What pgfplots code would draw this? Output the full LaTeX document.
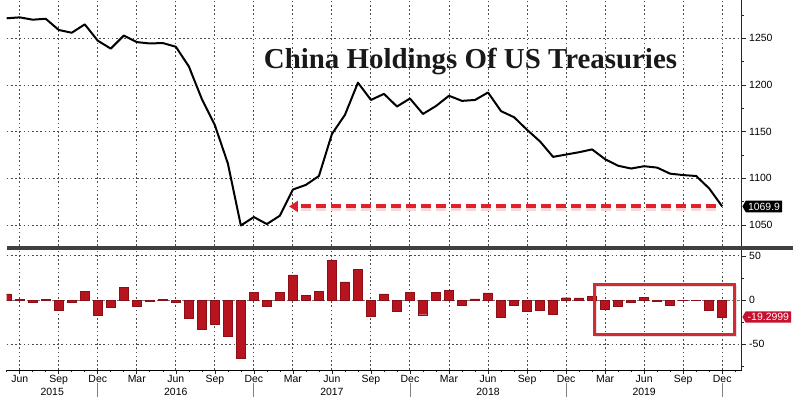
\documentclass[border=0pt]{standalone}
\usepackage{pgfplots}
\pgfplotsset{compat=1.18}
\usepackage{pgfplotstable}
\usepackage{fontspec}
\setmainfont{Liberation Sans}
\newfontfamily\titlefont{Liberation Serif}
\usetikzlibrary{arrows.meta,shapes.symbols,calc}
\definecolor{barred}{HTML}{B8141F}
\definecolor{arrred}{HTML}{E0202A}
\definecolor{boxred}{HTML}{C8102E}
\definecolor{rectred}{HTML}{D42A32}

\pgfplotstableread{
i val chg
0 1271.5 7
1 1272.5 1
2 1270 -2
3 1271 1
4 1259 -12
5 1256 -3
6 1265 10
7 1247.5 -17.5
8 1239 -8
9 1253 14.5
10 1246 -7.5
11 1244.5 -1.5
12 1245 1
13 1241 -3
14 1220 -21
15 1185 -33.5
16 1157 -28
17 1116 -41
18 1049.5 -66
19 1058.5 9
20 1051 -7
21 1060 9
22 1088 28.5
23 1093 5
24 1102.5 9.5
25 1147.5 45
26 1168 20.5
27 1202.5 35
28 1184 -18.5
29 1190.5 7
30 1177 -12.5
31 1185.5 8.5
32 1169 -16.7
33 1177.5 8.5
34 1188.5 11
35 1183 -5.5
36 1184 1.3
37 1192 8.2
38 1172 -19.5
39 1165.5 -6
40 1152 -13
41 1139.5 -12
42 1123 -16.5
43 1125.5 2.6
44 1128 2.4
45 1131 4
46 1120.5 -10
47 1113.5 -7
48 1110.5 -3
49 1113 2.7
50 1111.5 -1.2
51 1105 -6.2
52 1103.5 -0.5
53 1102.5 -0.4
54 1089.2 -11.7
55 1069.9 -19.3
}\data

\pgfplotsset{
  common/.style={
    scale only axis, width=735bp,
    xmin=0, xmax=56.5,
    axis line style={draw=none},
    xtick={1,4,...,55},
    ytick pos=right, yticklabel pos=right, tick align=outside,
    major tick length=4bp, minor tick length=2.5bp,
    tick style={black!85, line width=0.6bp},
    tick label style={font=\fontsize{10.5}{12}\selectfont},
    /pgf/number format/assume math mode=true,
    /pgf/number format/1000 sep={},
    clip mode=individual,
  }
}
\tikzset{gridst/.style={black!70, line width=1bp, dash pattern=on 1.6bp off 2.6bp}}

\begin{document}
\begin{tikzpicture}
\useasboundingbox (0,0) rectangle (800bp,-397bp);

% top panel
\begin{axis}[common, at={(6.7bp,0bp)}, anchor=north west, height=246bp,
  ymin=1027.5, ymax=1291.1,
  xticklabels={}, major x tick style={draw=none},
  ytick={1050,1100,...,1250}, minor ytick={1075,1125,1175,1225,1275},
]
\draw[gridst] (axis cs:1,1027.5) -- (axis cs:1,1291.1);
\draw[gridst] (axis cs:4,1027.5) -- (axis cs:4,1291.1);
\draw[gridst] (axis cs:7,1027.5) -- (axis cs:7,1291.1);
\draw[gridst] (axis cs:10,1027.5) -- (axis cs:10,1291.1);
\draw[gridst] (axis cs:13,1027.5) -- (axis cs:13,1291.1);
\draw[gridst] (axis cs:16,1027.5) -- (axis cs:16,1291.1);
\draw[gridst] (axis cs:19,1027.5) -- (axis cs:19,1291.1);
\draw[gridst] (axis cs:22,1027.5) -- (axis cs:22,1291.1);
\draw[gridst] (axis cs:25,1027.5) -- (axis cs:25,1291.1);
\draw[gridst] (axis cs:28,1027.5) -- (axis cs:28,1291.1);
\draw[gridst] (axis cs:31,1027.5) -- (axis cs:31,1291.1);
\draw[gridst] (axis cs:34,1027.5) -- (axis cs:34,1291.1);
\draw[gridst] (axis cs:37,1027.5) -- (axis cs:37,1291.1);
\draw[gridst] (axis cs:40,1027.5) -- (axis cs:40,1291.1);
\draw[gridst] (axis cs:43,1027.5) -- (axis cs:43,1291.1);
\draw[gridst] (axis cs:46,1027.5) -- (axis cs:46,1291.1);
\draw[gridst] (axis cs:49,1027.5) -- (axis cs:49,1291.1);
\draw[gridst] (axis cs:52,1027.5) -- (axis cs:52,1291.1);
\draw[gridst] (axis cs:55,1027.5) -- (axis cs:55,1291.1);
\draw[gridst] (axis cs:0,1050) -- (axis cs:56.5,1050);
\draw[gridst] (axis cs:0,1100) -- (axis cs:56.5,1100);
\draw[gridst] (axis cs:0,1150) -- (axis cs:56.5,1150);
\draw[gridst] (axis cs:0,1200) -- (axis cs:56.5,1200);
\draw[gridst] (axis cs:0,1250) -- (axis cs:56.5,1250);
\addplot[black, line width=2bp, line join=round] table[x=i,y=val]{\data};
\draw[black!85, line width=0.8bp] (rel axis cs:1,0) -- (rel axis cs:1,1);
\draw[arrred, opacity=0.18, line width=4bp, dash pattern=on 10bp off 5bp]
  ([yshift=-2.5bp]axis cs:54.5,1069.9) -- ([yshift=-2.5bp]axis cs:22.5,1069.9);
\draw[arrred, line width=4bp, dash pattern=on 10bp off 5bp, -{Triangle[length=9bp,width=11bp]}]
  (axis cs:54.5,1069.9) -- (axis cs:21.7,1069.9);
\node[signal, signal to=west, signal pointer angle=120, fill=black, text=white,
  inner sep=2.2bp, font=\fontsize{10.5}{12}\selectfont, anchor=west]
  at (axis cs:56.5,1069.9) [xshift=0.5bp] {1069.9};
\end{axis}

\node[font=\titlefont\bfseries\fontsize{29}{33}\selectfont, anchor=base, text=black!90]
  at (470.5bp,-68.3bp) {China Holdings Of US Treasuries};

\fill[black!75] (6.7bp,-246bp) rectangle (793bp,-250bp);

% bottom panel
\begin{axis}[common, at={(6.7bp,-250bp)}, anchor=north west, height=120bp,
  ymin=-79.5, ymax=56.8,
  minor xtick={0,...,56},
  xticklabels={Jun,Sep,Dec,Mar,Jun,Sep,Dec,Mar,Jun,Sep,Dec,Mar,Jun,Sep,Dec,Mar,Jun,Sep,Dec},
  xticklabel style={yshift=2.5bp},
  xtick pos=left,
  ytick={-50,0,50}, minor ytick={-75,-25,25},
]
\draw[gridst] (axis cs:1,-79.5) -- (axis cs:1,56.8);
\draw[gridst] (axis cs:4,-79.5) -- (axis cs:4,56.8);
\draw[gridst] (axis cs:7,-79.5) -- (axis cs:7,56.8);
\draw[gridst] (axis cs:10,-79.5) -- (axis cs:10,56.8);
\draw[gridst] (axis cs:13,-79.5) -- (axis cs:13,56.8);
\draw[gridst] (axis cs:16,-79.5) -- (axis cs:16,56.8);
\draw[gridst] (axis cs:19,-79.5) -- (axis cs:19,56.8);
\draw[gridst] (axis cs:22,-79.5) -- (axis cs:22,56.8);
\draw[gridst] (axis cs:25,-79.5) -- (axis cs:25,56.8);
\draw[gridst] (axis cs:28,-79.5) -- (axis cs:28,56.8);
\draw[gridst] (axis cs:31,-79.5) -- (axis cs:31,56.8);
\draw[gridst] (axis cs:34,-79.5) -- (axis cs:34,56.8);
\draw[gridst] (axis cs:37,-79.5) -- (axis cs:37,56.8);
\draw[gridst] (axis cs:40,-79.5) -- (axis cs:40,56.8);
\draw[gridst] (axis cs:43,-79.5) -- (axis cs:43,56.8);
\draw[gridst] (axis cs:46,-79.5) -- (axis cs:46,56.8);
\draw[gridst] (axis cs:49,-79.5) -- (axis cs:49,56.8);
\draw[gridst] (axis cs:52,-79.5) -- (axis cs:52,56.8);
\draw[gridst] (axis cs:55,-79.5) -- (axis cs:55,56.8);
\draw[gridst] (axis cs:0,50) -- (axis cs:56.5,50);
\draw[gridst] (axis cs:0,-50) -- (axis cs:56.5,-50);
\draw[black!55, line width=0.6bp, dash pattern=on 3bp off 2bp] (axis cs:0,0) -- (axis cs:56.5,0);
\addplot[ybar, bar width=9bp, fill=barred, draw=barred!75!black, line width=0.4bp] table[x=i,y=chg]{\data};
\draw[black!85, line width=0.8bp] (rel axis cs:1,0) -- (rel axis cs:1,1);
\draw[black, line width=0.8bp] (rel axis cs:0,0) -- (rel axis cs:1,0);
\draw[black, opacity=0.12, line width=2.5bp] ($(axis cs:45.17,17.8)+(1.5bp,-1.5bp)$) rectangle ($(axis cs:55.93,-39)+(1.5bp,-1.5bp)$);
\draw[rectred, line width=2.5bp] (axis cs:45.17,17.8) rectangle (axis cs:55.93,-39);
\node[signal, signal to=west, signal pointer angle=120, fill=boxred, text=white,
  inner sep=2bp, font=\fontsize{10.5}{12}\selectfont, anchor=west]
  at (axis cs:56.5,-19.3) [xshift=0.5bp] {-19.2999};
\node[font=\fontsize{10.5}{12}\selectfont] at (axis cs:3.5,-79.5) [yshift=-21.5bp] {2015};
\node[font=\fontsize{10.5}{12}\selectfont] at (axis cs:13,-79.5) [yshift=-21.5bp] {2016};
\node[font=\fontsize{10.5}{12}\selectfont] at (axis cs:25,-79.5) [yshift=-21.5bp] {2017};
\node[font=\fontsize{10.5}{12}\selectfont] at (axis cs:37,-79.5) [yshift=-21.5bp] {2018};
\node[font=\fontsize{10.5}{12}\selectfont] at (axis cs:49,-79.5) [yshift=-21.5bp] {2019};
\end{axis}

% year separators
\draw[black!50, line width=1bp] (97.76bp,-383bp) -- (97.76bp,-397bp);
\draw[black!50, line width=1bp] (253.9bp,-383bp) -- (253.9bp,-397bp);
\draw[black!50, line width=1bp] (410.0bp,-383bp) -- (410.0bp,-397bp);
\draw[black!50, line width=1bp] (566.1bp,-383bp) -- (566.1bp,-397bp);
\draw[black!50, line width=1bp] (722.2bp,-383bp) -- (722.2bp,-397bp);
\end{tikzpicture}
\end{document}
